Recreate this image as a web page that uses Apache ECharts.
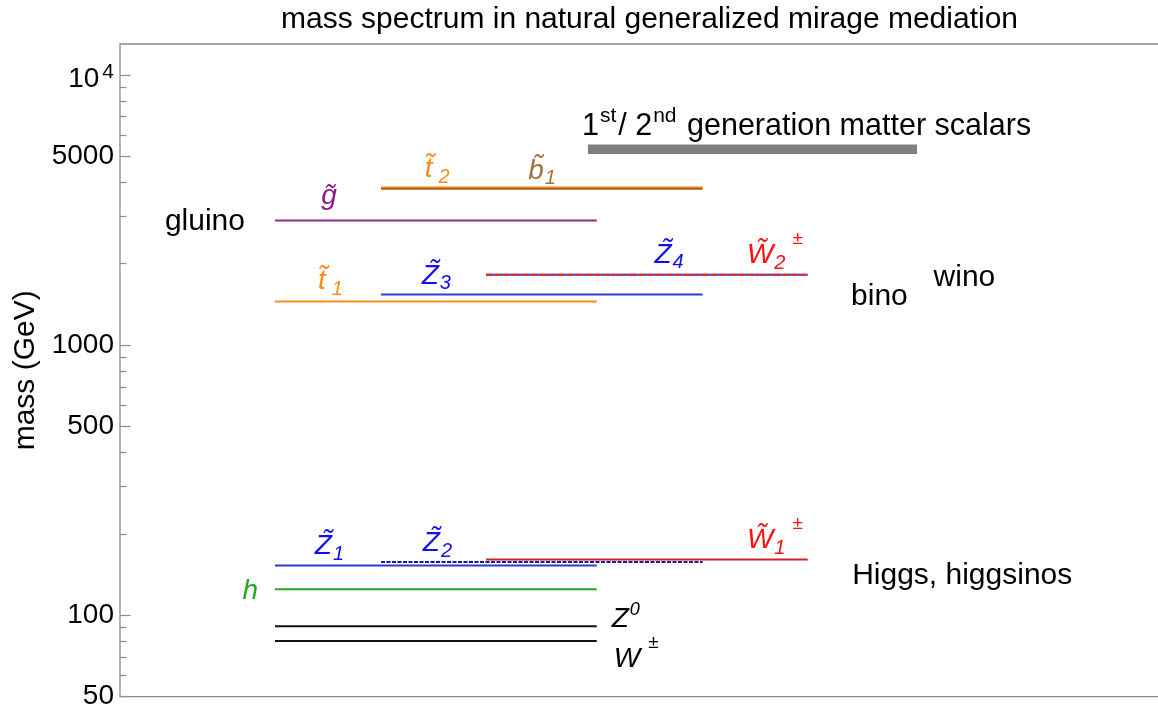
<!DOCTYPE html>
<html>
<head>
<meta charset="utf-8">
<script src="https://cdn.jsdelivr.net/npm/echarts@6.0.0/dist/echarts.min.js"></script>
<style>
html,body{margin:0;padding:0;background:#ffffff;}
#chart{width:1158px;height:711px;}
</style>
</head>
<body>
<div id="chart"></div>
<script>
// ---------------- data ----------------
const levelNames  = ['gluino', 'stop2', 'sbottom1', 'stop1', 'neutralino3', 'neutralino4', 'chargino2', 'neutralino1', 'neutralino2', 'chargino1', 'higgs', 'Z0', 'W'];
const levelMasses = [2890, 3830, 3790, 1450, 1540, 1820, 1820, 153, 157.5, 161, 125, 91.2, 80.4]; // GeV
const scalarMass  = 5300; // GeV, 1st/2nd generation matter scalars
const groupNames  = ['gluino', 'bino', 'wino', 'Higgs, higgsinos'];
const yTickValues = [50, 100, 500, 1000, 5000, 10000];
const yTickLabels = ['50', '100', '500', '1000', '5000', '10^4'];
const yMinorTickValues = [60, 70, 80, 90, 200, 300, 400, 600, 700, 800, 900, 2000, 3000, 4000, 6000, 7000, 8000, 9000];
const titleText  = 'mass spectrum in natural generalized mirage mediation';
const yAxisTitle = 'mass (GeV)';

// ---------------- layout / styling ----------------
const FONT = '"Liberation Sans", Arial, Helvetica, sans-serif';
const COLUMNS = { A: [1.465, 4.506], B: [2.467, 5.507], C: [3.459, 6.50] };
const SCALAR_SPAN = [4.423, 7.533];
const BLUE = '#2a3ccf', LBLUE = '#1010f0', RED = '#ff1010', ORANGE = '#ff8a1a';

const levelStyle = {
  gluino:      { col: 'A', color: '#8b2b8b' },
  stop2:       { col: 'B', color: ORANGE },
  sbottom1:    { col: 'B', color: '#a8641e' },
  stop1:       { col: 'A', color: ORANGE },
  neutralino3: { col: 'B', color: BLUE },
  neutralino4: { col: 'C', color: BLUE },
  chargino2:   { col: 'C', color: '#ff2020', type: [6, 3] },
  neutralino1: { col: 'A', color: BLUE },
  neutralino2: { col: 'B', color: '#1a1a9a', type: [4, 1.5] },
  chargino1:   { col: 'C', color: '#d42020' },
  higgs:       { col: 'A', color: '#1faa1f' },
  Z0:          { col: 'A', color: '#111111' },
  W:           { col: 'A', color: '#111111' }
};

// up = distance (px) of the label's main baseline above the level line
const levelLabel = {
  gluino:      { text: '{m|g\u0303}',            x: 1.975, color: '#8b1a8b', up: 14 },
  stop2:       { text: '{m|t\u0303}{sg|2}',      x: 2.997, color: ORANGE,    up: 8 },
  sbottom1:    { text: '{m|b\u0303}{s|1}',       x: 3.99,  color: '#a0703c', up: 8 },
  stop1:       { text: '{m|t\u0303}{sg|1}',      x: 1.99,  color: ORANGE,    up: 10.5 },
  neutralino3: { text: '{m|Z\u0303}{s|3}',       x: 2.99,  color: LBLUE,     up: 8.5 },
  neutralino4: { text: '{m|Z\u0303}{s|4}',       x: 5.19,  color: LBLUE,     up: 10 },
  chargino2:   { text: '{m|W\u0303}{s|2}{u|\u00b1}', x: 6.19, color: RED,    up: 9.5 },
  neutralino1: { text: '{m|Z\u0303}{s|1}',       x: 1.98,  color: LBLUE,     up: 9.3 },
  neutralino2: { text: '{m|Z\u0303}{s|2}',       x: 3.0,   color: LBLUE,     up: 8.7 },
  chargino1:   { text: '{m|W\u0303}{s|1}{u|\u00b1}', x: 6.19, color: RED,    up: 9 },
  higgs:       { text: '{m|h}',                  side: 'left',  gap: 17, color: '#1faa1f', up: -12 },
  Z0:          { text: '{m|Z}{z|0}',             side: 'right', gap: 15, color: '#000000', up: -3 },
  W:           { text: '{m|W}{v|\u00b1}',        side: 'right', gap: 17, color: '#000000', up: -28 }
};

const P = 12;           // top padding of the main glyph token
const BASE = P + 23.8;  // distance from label top to main baseline (28px font)
const RICH = {
  m:  { fontSize: 28, lineHeight: 28, fontStyle: 'italic', fontFamily: FONT, verticalAlign: 'top', padding: [P, 0, 0, 0] },
  s:  { fontSize: 20, lineHeight: 20, fontStyle: 'italic', fontFamily: FONT, verticalAlign: 'top', padding: [P + 11.8, 0, 0, 1] },
  sg: { fontSize: 20, lineHeight: 20, fontStyle: 'italic', fontFamily: FONT, verticalAlign: 'top', padding: [P + 11.8, 0, 0, 6] },
  u:  { fontSize: 19, lineHeight: 19, fontFamily: FONT, verticalAlign: 'top', padding: [0, 0, 0, 7] },
  v:  { fontSize: 19, lineHeight: 19, fontFamily: FONT, verticalAlign: 'top', padding: [0, 0, 0, 8] },
  z:  { fontSize: 18, lineHeight: 18, fontStyle: 'italic', fontFamily: FONT, verticalAlign: 'top', padding: [7.8, 0, 0, 1] },
  n:  { fontSize: 30.5, lineHeight: 30, fontFamily: FONT, verticalAlign: 'top', padding: [10, 0, 0, 0] },
  p:  { fontSize: 21, lineHeight: 21, fontFamily: FONT, verticalAlign: 'top', padding: [5, 2, 0, 1] }
};
const SBASE = 10 + 25.5;

const massOf = name => levelMasses[levelNames.indexOf(name)];

// ---------------- series ----------------
const series = [];
series.push({
  type: 'line', name: 'scalars', xAxisIndex: 0, yAxisIndex: 0,
  data: [[SCALAR_SPAN[0], scalarMass], [SCALAR_SPAN[1], scalarMass]],
  symbol: 'none', silent: true, z: 2,
  lineStyle: { color: '#808080', width: 9.5, cap: 'butt' }
});
levelNames.forEach((name, i) => {
  const st = levelStyle[name];
  const span = COLUMNS[st.col];
  series.push({
    type: 'line', name, xAxisIndex: 0, yAxisIndex: 0,
    data: [[span[0], levelMasses[i]], [span[1], levelMasses[i]]],
    symbol: 'none', silent: true, z: 3,
    lineStyle: { color: st.color, width: st.width || 2, type: st.type || 'solid', cap: 'butt' }
  });
});

const labelData = [];
levelNames.forEach((name, i) => {
  const L = levelLabel[name];
  const span = COLUMNS[levelStyle[name].col];
  let x = L.x, align = 'center', dx = 0;
  if (L.side === 'left')  { x = span[0]; align = 'right'; dx = -L.gap; }
  if (L.side === 'right') { x = span[1]; align = 'left';  dx = L.gap; }
  const txt = L.text;
  labelData.push({
    value: [x, levelMasses[i]],
    label: { show: true, position: 'inside', align, verticalAlign: 'top', offset: [dx, -L.up - BASE],
             color: L.color, fontFamily: FONT, rich: RICH, formatter: () => txt }
  });
});
// scalars caption
labelData.push({
  value: [SCALAR_SPAN[0], scalarMass],
  label: { show: true, position: 'inside', align: 'left', verticalAlign: 'top', offset: [-6, -13 - SBASE],
           color: '#000', fontFamily: FONT, rich: RICH,
           formatter: () => '{n|1}{p|st}{n|/ 2}{p|nd}{n| generation matter scalars}' }
});
// group captions
const groupPos = {
  'gluino':           { value: [0.803, massOf('gluino')], align: 'center', dy: 1 },
  'bino':             { value: [6.91, 1508], align: 'left', dy: 0 },
  'wino':             { value: [7.69, 1773], align: 'left', dy: 0 },
  'Higgs, higgsinos': { value: [6.92, 140],  align: 'left', dy: 0 }
};
groupNames.forEach(g => {
  const gp = groupPos[g];
  labelData.push({
    value: gp.value,
    label: { show: true, position: 'inside', align: gp.align, verticalAlign: 'middle', offset: [0, gp.dy],
             color: '#000', fontFamily: FONT, fontSize: 30, formatter: () => g }
  });
});
series.push({
  type: 'scatter', name: 'labels', xAxisIndex: 0, yAxisIndex: 0,
  data: labelData, symbolSize: 1, itemStyle: { color: 'rgba(0,0,0,0)', opacity: 1 }, silent: true, z: 5
});

function fmtTick(v) {
  let best = 0;
  for (let i = 1; i < yTickValues.length; i++) {
    if (Math.abs(Math.log10(v) - Math.log10(yTickValues[i])) < Math.abs(Math.log10(v) - Math.log10(yTickValues[best]))) best = i;
  }
  const t = yTickLabels[best];
  if (t.indexOf('^') >= 0) { const parts = t.split('^'); return '{b|' + parts[0] + '}{e|' + parts[1] + '}'; }
  return t;
}

const TICK_COLOR = '#8c8c8c';
const option = {
  animation: false,
  backgroundColor: '#ffffff',
  title: { text: titleText, left: 281, top: 5, padding: 0,
           textStyle: { fontSize: 30, fontWeight: 'normal', color: '#000', fontFamily: FONT } },
  grid: { left: 120, right: -20, top: 44, bottom: 14.3, show: true, borderColor: '#8c8c8c', borderWidth: 1.3,
          backgroundColor: 'rgba(0,0,0,0)', containLabel: false, outerBoundsMode: 'none' },
  xAxis: { type: 'value', min: 0, max: 10, show: false },
  yAxis: [
    { type: 'log', logBase: 10, min: 50, max: 13000, position: 'left',
      name: yAxisTitle, nameLocation: 'middle', nameGap: 77, nameRotate: 90,
      nameTextStyle: { fontSize: 30, color: '#000', fontFamily: FONT },
      axisLine: { show: false },
      axisTick: { show: true, inside: true, length: 10.5, customValues: yTickValues, lineStyle: { color: TICK_COLOR, width: 1.2 } },
      axisLabel: { show: true, customValues: yTickValues, margin: 6, fontSize: 28, color: '#000', fontFamily: FONT,
                   formatter: v => fmtTick(v),
                   rich: { b: { fontSize: 28, lineHeight: 28, fontFamily: FONT, verticalAlign: 'top', padding: [4, 0, 0, 0] },
                           e: { fontSize: 21, lineHeight: 21, fontFamily: FONT, verticalAlign: 'top', padding: [1, 0, 0, 3] } } },
      splitLine: { show: false }, minorTick: { show: false }, minorSplitLine: { show: false } },
    { type: 'log', logBase: 10, min: 50, max: 13000, position: 'left',
      axisLine: { show: false }, axisLabel: { show: false },
      axisTick: { show: true, inside: true, length: 6.5, customValues: yMinorTickValues, lineStyle: { color: TICK_COLOR, width: 1.2 } },
      splitLine: { show: false } }
  ],
  series
};

const chart = echarts.init(document.getElementById('chart'), null, { renderer: 'canvas' });
chart.setOption(option);
</script>
</body>
</html>
